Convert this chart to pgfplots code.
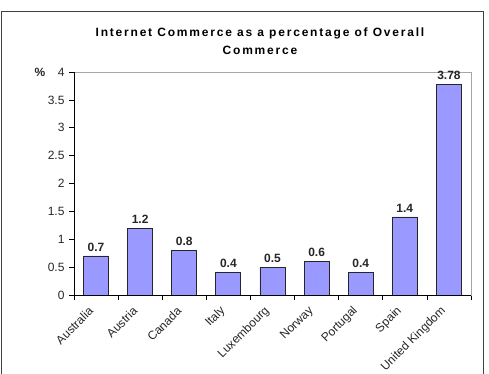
\documentclass[border=0pt]{standalone}
\usepackage{pgfplots}
\pgfplotsset{compat=1.18}
\usepackage{fontspec}
\setmainfont{Liberation Sans}
\definecolor{barblue}{HTML}{9999FF}
\begin{document}
\begin{tikzpicture}
\path[use as bounding box] (-74pt,-78pt) rectangle (415pt,295pt);
\draw[line width=0.9pt, black!75] (-73pt,-80pt) -- (-73pt,284pt) -- (409pt,284pt) -- (409pt,-80pt);
\begin{axis}[
  at={(0pt,0pt)}, anchor=south west,
  scale only axis, width=397pt, height=223pt,
  xmin=-0.5, xmax=8.5, ymin=0, ymax=4,
  ytick={0,0.5,...,4},
  yticklabels={0,0.5,1,1.5,2,2.5,3,3.5,4},
  xtick={0,...,8},
  xticklabels={Australia,Austria,Canada,Italy,Luxembourg,Norway,Portugal,Spain,United Kingdom},
  minor xtick={-0.5,0.5,...,8.5},
  major x tick style={draw=none},
  tick align=outside,
  major tick length=5pt, minor tick length=5pt,
  tick style={black, line width=0.6pt},
  xtick pos=bottom, ytick pos=left,
  axis line style={gray!70, line width=0.6pt},
  ticklabel style={font=\fontsize{12}{14}\selectfont, text=black!85},
  yticklabel style={xshift=-1pt},
  xticklabel style={inner sep=0pt, xshift=-5pt, yshift=-9pt, rotate=45, anchor=east},
  ybar, bar width=25pt,
  point meta=explicit symbolic,
  nodes near coords,
  every node near coord/.append style={font=\fontsize{12}{14}\selectfont\bfseries, text=black!85, yshift=1pt},
]
\addplot[fill=barblue, draw=black!85, line width=0.8pt] coordinates {
  (0,0.7) [0.7]
  (1,1.2) [1.2]
  (2,0.8) [0.8]
  (3,0.4) [0.4]
  (4,0.5) [0.5]
  (5,0.6) [0.6]
  (6,0.4) [0.4]
  (7,1.4) [1.4]
  (8,3.78) [3.78]
};
\draw[black, line width=0.6pt] (rel axis cs:0,1) -- (rel axis cs:0,0) -- (rel axis cs:1,0);
\end{axis}
\node[align=center, font=\fontsize{12}{18}\selectfont\bfseries\addfontfeature{LetterSpace=15}] at (186pt,254pt) {Internet Commerce as a percentage of Overall\\Commerce};
\node[font=\fontsize{12}{14}\selectfont\bfseries, text=black!85] at (-34pt,223pt) {\%};
\end{tikzpicture}
\end{document}
